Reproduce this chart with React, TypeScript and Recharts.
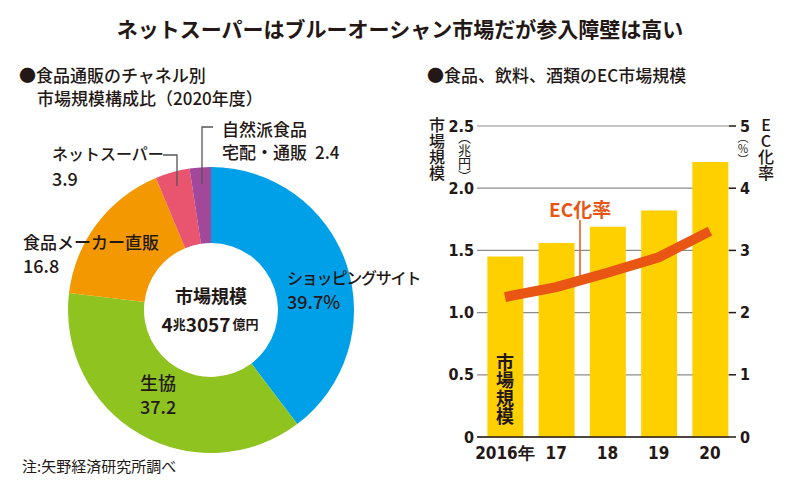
import React from 'react';
import { PieChart, Pie, Cell, ComposedChart, Bar, Line, XAxis, YAxis, CartesianGrid } from 'recharts';

// 食品通販のチャネル別 市場規模構成比（2020年度）, %
const channels = ['ショッピングサイト', '生協', '食品メーカー直販', 'ネットスーパー', '自然派食品宅配・通販'];
const shares = [39.7, 37.2, 16.8, 3.9, 2.4];
const sliceColors = ['#00A0E9', '#8FC31F', '#F39800', '#E9546E', '#A2489A'];

// 食品、飲料、酒類のEC市場規模
const years = ['2016年', '17', '18', '19', '20'];
const marketSize = [1.45, 1.56, 1.69, 1.82, 2.21]; // 兆円
const ecRate = [2.25, 2.41, 2.64, 2.89, 3.31]; // %
const sizeTicks = [0, 0.5, 1, 1.5, 2, 2.5];
const rateTicks = [0, 1, 2, 3, 4, 5];

const pieData = channels.map((name, i) => ({ name, value: shares[i] }));
const barData = years.map((year, i) => ({ idx: i, year, size: marketSize[i], rate: ecRate[i] }));

const INK = '#231815';
const JP = "'Noto Sans CJK JP', 'Noto Sans', sans-serif";
const NUM = "'Liberation Sans Narrow', 'Arial Narrow', 'DejaVu Sans Condensed', sans-serif";
const ORANGE = '#E95513';

const vert = (extra: React.CSSProperties): React.CSSProperties => ({
  position: 'absolute',
  writingMode: 'vertical-rl',
  lineHeight: 1,
  fontFamily: JP,
  color: INK,
  whiteSpace: 'nowrap',
  ...extra,
});

const App = () => {
  const numTick = { fill: INK, fontSize: 16, fontWeight: 700, fontFamily: NUM };
  return (
    <div style={{ position: 'absolute', left: 0, top: 0, width: 798, height: 495, background: '#fff', overflow: 'hidden' }}>
      <div style={{ position: 'absolute', left: 0, top: 0 }}>
        <PieChart width={400} height={495} margin={{ top: 0, right: 0, bottom: 0, left: 0 }}>
          <Pie
            data={pieData}
            dataKey="value"
            cx={211}
            cy={310}
            innerRadius={67}
            outerRadius={143}
            startAngle={90}
            endAngle={-270}
            stroke="none"
            isAnimationActive={false}
          >
            {pieData.map((d, i) => (
              <Cell key={d.name} fill={sliceColors[i]} />
            ))}
          </Pie>
        </PieChart>
      </div>

      <div style={{ position: 'absolute', left: 400, top: 0 }}>
        <ComposedChart width={398} height={495} data={barData} margin={{ top: 126, right: 39, bottom: 28, left: 37 }}>
          <CartesianGrid yAxisId="size" vertical={false} stroke="#8c8c8c" strokeWidth={1.2} />
          <XAxis
            dataKey="idx"
            type="number"
            domain={[-0.546, 4.371]}
            allowDataOverflow
            ticks={[0, 1, 2, 3, 4]}
            tickFormatter={(v: number) => years[v]}
            axisLine={{ stroke: INK, strokeWidth: 1.5 }}
            tickLine={false}
            tickSize={0}
            tickMargin={10}
            height={30}
            tick={{ ...numTick, fontSize: 17 }}
            interval={0}
          />
          <YAxis
            yAxisId="size"
            domain={[0, 2.5]}
            ticks={sizeTicks}
            tickFormatter={(v: number) => (v === 0 ? '0' : v.toFixed(1))}
            axisLine={false}
            tickLine={false}
            tickSize={3}
            tickMargin={0}
            width={40}
            tick={numTick}
          />
          <YAxis
            yAxisId="rate"
            orientation="right"
            domain={[0, 5]}
            ticks={rateTicks}
            axisLine={false}
            tickLine={{ stroke: INK, strokeWidth: 1.5 }}
            tickSize={7}
            tickMargin={4}
            width={30}
            tick={{ ...numTick, textAnchor: 'start' }}
          />
          <Bar yAxisId="size" dataKey="size" fill="#FFD000" barSize={36} isAnimationActive={false} />
          <Line
            yAxisId="rate"
            dataKey="rate"
            type="linear"
            stroke={ORANGE}
            strokeWidth={10}
            dot={false}
            activeDot={false}
            isAnimationActive={false}
          />
        </ComposedChart>
      </div>

      <svg width={798} height={495} style={{ position: 'absolute', left: 0, top: 0, pointerEvents: 'none' }}>
        <g fontFamily={JP} fill={INK}>
          <text x={400} y={28} textAnchor="middle" dominantBaseline="central" fontSize={21} fontWeight={700}>
            ネットスーパーはブルーオーシャン市場だが参入障壁は高い
          </text>
          <text x={19} y={74} dominantBaseline="central" fontSize={17} fontWeight={500}>
            ●食品通販のチャネル別
          </text>
          <text x={37} y={97} dominantBaseline="central" fontSize={17} fontWeight={500}>
            市場規模構成比（2020年度）
          </text>
          <text x={427} y={74} dominantBaseline="central" fontSize={17} fontWeight={500}>
            ●食品、飲料、酒類のEC市場規模
          </text>

          {/* pie labels */}
          <text x={222} y={128} dominantBaseline="central" fontSize={17} fontWeight={500}>自然派食品</text>
          <text x={222} y={151} dominantBaseline="central" fontSize={17} fontWeight={500}>
            宅配・通販<tspan dx={8}>{shares[4]}</tspan>
          </text>
          <text x={52} y={153} dominantBaseline="central" fontSize={16} fontWeight={500}>ネットスーパー</text>
          <text x={52} y={178} dominantBaseline="central" fontSize={18} fontWeight={500}>{shares[3]}</text>
          <text x={23} y={241} dominantBaseline="central" fontSize={17} fontWeight={500}>食品メーカー直販</text>
          <text x={23} y={265} dominantBaseline="central" fontSize={18} fontWeight={500}>{shares[2]}</text>
          <text x={287} y={277} dominantBaseline="central" fontSize={16} fontWeight={500} letterSpacing={-1.2}>
            ショッピングサイト
          </text>
          <text x={287} y={301} dominantBaseline="central" fontSize={18} fontWeight={500}>{shares[0]}%</text>
          <text x={140} y={382} dominantBaseline="central" fontSize={18} fontWeight={500}>生協</text>
          <text x={140} y={406} dominantBaseline="central" fontSize={18} fontWeight={500}>{shares[1]}</text>

          <text x={211} y={295} textAnchor="middle" dominantBaseline="central" fontSize={18} fontWeight={700}>市場規模</text>
          <text x={210} y={323} textAnchor="middle" dominantBaseline="central" fontWeight={700}>
            <tspan fontSize={19}>4</tspan>
            <tspan fontSize={13}>兆</tspan>
            <tspan fontSize={19}>3057</tspan>
            <tspan fontSize={13} dx={2}>億円</tspan>
          </text>

          <text x={22} y={465} dominantBaseline="central" fontSize={15} fontWeight={400}>注:矢野経済研究所調べ</text>

          <text x={549} y={208} dominantBaseline="central" fontSize={19} fontWeight={700} fill={ORANGE}>EC化率</text>
        </g>
        <g fill="none" strokeWidth={1.3}>
          <polyline points="163,155 177,155 177,186" stroke="#555" />
          <polyline points="213,127 202,127 202,184" stroke="#555" />
          <line x1={580} y1={220} x2={580} y2={277} stroke={ORANGE} strokeWidth={1.5} />
        </g>
      </svg>

      <div style={vert({ left: 429, top: 117, fontSize: 16, fontWeight: 500 })}>市場規模</div>
      <div style={vert({ left: 458, top: 131, fontSize: 13, fontWeight: 400 })}>（兆円）</div>
      <div style={vert({ left: 758, top: 117, fontSize: 16, fontWeight: 500, textOrientation: 'upright' })}>EC化率</div>
      <div style={vert({ left: 737, top: 132, fontSize: 11, fontWeight: 400 })}>（％）</div>
      <div style={vert({ left: 496, top: 353, fontSize: 18, fontWeight: 700 })}>市場規模</div>
    </div>
  );
};

export default App;
